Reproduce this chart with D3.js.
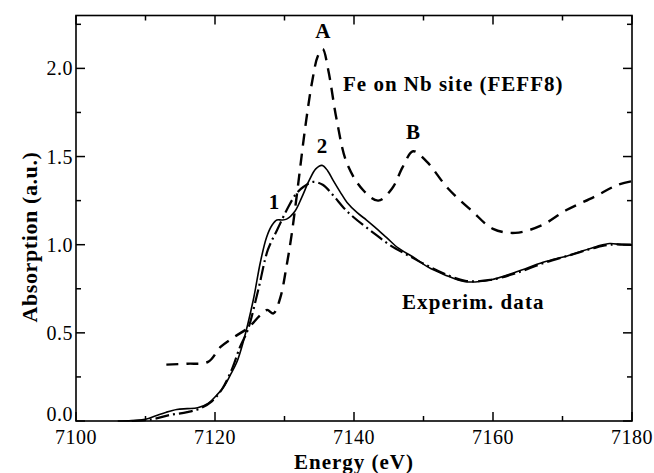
<!DOCTYPE html>
<html>
<head>
<meta charset="utf-8">
<script src="https://cdn.jsdelivr.net/npm/d3@7"></script>
<style>
  body { margin: 0; background: #fff; }
</style>
</head>
<body>
<svg id="chart" width="654" height="473"></svg>
<script>
// Fe on Nb site, FEFF8 calculation (dashed)
const feffEnergy = [7113, 7116, 7119, 7120.8, 7122.5, 7124.8, 7126.5, 7127.5, 7128.4, 7129.4, 7130.3, 7131, 7131.8, 7133, 7134, 7134.8, 7135.5, 7136.3, 7137.5, 7139, 7141.3, 7143.5, 7145.5, 7147, 7148.5, 7150.5, 7153.5, 7157, 7160, 7163.2, 7167, 7170.5, 7174.5, 7178, 7180];
const feffAbs = [0.32, 0.325, 0.335, 0.42, 0.47, 0.53, 0.60, 0.63, 0.61, 0.70, 0.88, 1.05, 1.29, 1.67, 1.93, 2.07, 2.11, 1.99, 1.71, 1.46, 1.31, 1.25, 1.32, 1.44, 1.53, 1.47, 1.32, 1.19, 1.09, 1.067, 1.11, 1.195, 1.27, 1.34, 1.36];

// experimental data (solid)
const expEnergy = [7106, 7108, 7110, 7111.5, 7113, 7114.5, 7116, 7117.5, 7119, 7120.2, 7121.2, 7122.2, 7123.1, 7124, 7125.5, 7126.5, 7127.4, 7128.2, 7128.9, 7129.6, 7130.3, 7131.5, 7132.5, 7133.5, 7134.5, 7135.4, 7136.2, 7137, 7138, 7139, 7140.5, 7141.8, 7143, 7144.7, 7146.4, 7148.5, 7150.6, 7153, 7156, 7159.6, 7163.4, 7167.2, 7171, 7174.9, 7176.8, 7178.5, 7180];
const expAbs = [0, 0.002, 0.01, 0.03, 0.05, 0.065, 0.07, 0.075, 0.10, 0.145, 0.19, 0.26, 0.33, 0.44, 0.685, 0.895, 1.04, 1.11, 1.14, 1.14, 1.145, 1.19, 1.27, 1.36, 1.43, 1.45, 1.42, 1.365, 1.30, 1.24, 1.18, 1.14, 1.10, 1.04, 0.98, 0.93, 0.874, 0.83, 0.79, 0.80, 0.846, 0.90, 0.94, 0.99, 1.007, 1.0, 0.997];

// second experimental curve (dash-dot)
const exp2Energy = [7108, 7111, 7113.5, 7116, 7117.8, 7119.5, 7121, 7122.5, 7123.6, 7124.7, 7126.2, 7127.6, 7128.9, 7130.3, 7131.7, 7132.8, 7134.1, 7135.5, 7137, 7138.5, 7139.9, 7142.7, 7145.2, 7148, 7150.6, 7153, 7156, 7159.6, 7163.4, 7167.2, 7171, 7174.9, 7177, 7180];
const exp2Abs = [0, 0.01, 0.034, 0.05, 0.07, 0.11, 0.18, 0.30, 0.42, 0.515, 0.74, 0.97, 1.08, 1.195, 1.29, 1.33, 1.356, 1.34, 1.28, 1.21, 1.157, 1.07, 0.997, 0.935, 0.88, 0.835, 0.795, 0.80, 0.84, 0.895, 0.94, 0.985, 1.0, 1.0];

const xMajor = [7100, 7120, 7140, 7160, 7180];
const xMinor = [7110, 7130, 7150, 7170];
const yMajor = [0.0, 0.5, 1.0, 1.5, 2.0];
const yMinor = [0.25, 0.75, 1.25, 1.75, 2.25];

// peak labels [energy, absorption, text]
const notes = [
  [7135.5, 2.17, "A"],
  [7148.5, 1.60, "B"],
  [7135.4, 1.52, "2"],
  [7128.5, 1.20, "1"]
];

const serif = "'Liberation Serif', 'Times New Roman', Times, 'DejaVu Serif', serif";

const svg = d3.select("#chart").attr("font-family", serif);
const plotL = 76, plotR = 632, plotT = 15.5, plotB = 421;

const x = d3.scaleLinear().domain([7100, 7180]).range([plotL, plotR]);
const y = d3.scaleLinear().domain([0, 2.3]).range([plotB, plotT]);

function pts(es, as) { return es.map((e, i) => [e, as[i]]); }

const line = d3.line()
  .x(d => x(d[0]))
  .y(d => y(d[1]))
  .curve(d3.curveCatmullRom.alpha(0.5));

const g = svg.append("g");

g.append("path")
  .attr("d", line(pts(feffEnergy, feffAbs)))
  .attr("fill", "none").attr("stroke", "#000")
  .attr("stroke-width", 2.4).attr("stroke-dasharray", "12,8");

g.append("path")
  .attr("d", line(pts(exp2Energy, exp2Abs)))
  .attr("fill", "none").attr("stroke", "#000")
  .attr("stroke-width", 2.2).attr("stroke-dasharray", "14,4,2,4");

g.append("path")
  .attr("d", line(pts(expEnergy, expAbs)))
  .attr("fill", "none").attr("stroke", "#000")
  .attr("stroke-width", 1.6);

// ticks pointing inward on all four sides
function xticks(vals, len) {
  vals.forEach(v => {
    g.append("line").attr("class", "tk").attr("x1", x(v)).attr("x2", x(v)).attr("y1", plotB).attr("y2", plotB - len);
    g.append("line").attr("class", "tk").attr("x1", x(v)).attr("x2", x(v)).attr("y1", plotT).attr("y2", plotT + len);
  });
}
function yticks(vals, len) {
  vals.forEach(v => {
    g.append("line").attr("class", "tk").attr("x1", plotL).attr("x2", plotL + len).attr("y1", y(v)).attr("y2", y(v));
    g.append("line").attr("class", "tk").attr("x1", plotR).attr("x2", plotR - len).attr("y1", y(v)).attr("y2", y(v));
  });
}
xticks(xMajor, 9); xticks(xMinor, 5);
yticks(yMajor, 9); yticks(yMinor, 5);
g.selectAll("line.tk").attr("stroke", "#000").attr("stroke-width", 1.5);

g.append("rect")
  .attr("x", plotL).attr("y", plotT)
  .attr("width", plotR - plotL).attr("height", plotB - plotT)
  .attr("fill", "none").attr("stroke", "#000").attr("stroke-width", 1.6);

// tick labels
xMajor.forEach(v => {
  g.append("text")
    .attr("x", x(v)).attr("y", plotB + 23)
    .attr("font-size", 20)
    .attr("letter-spacing", 0.5)
    .attr("text-anchor", "middle").text(v);
});
yMajor.forEach(v => {
  g.append("text")
    .attr("x", plotL - 3).attr("y", y(v) + (v === 0 ? 0 : 7))
    .attr("font-size", 20)
    .attr("letter-spacing", 0.5)
    .attr("text-anchor", "end").text(d3.format(".1f")(v));
});

// axis titles
g.append("text")
  .attr("x", (plotL + plotR) / 2).attr("y", 469)
  .attr("font-size", 21).attr("font-weight", "bold")
  .attr("letter-spacing", 1)
  .attr("text-anchor", "middle").text("Energy (eV)");
g.append("text")
  .attr("transform", "translate(37,237) rotate(-90)")
  .attr("font-size", 22).attr("font-weight", "bold")
  .attr("letter-spacing", 0.6)
  .attr("text-anchor", "middle").text("Absorption (a.u.)");

// annotations
notes.forEach(n => {
  g.append("text")
    .attr("x", x(n[0])).attr("y", y(n[1]))
    .attr("font-size", 21).attr("font-weight", "bold")
    .attr("text-anchor", "middle").text(n[2]);
});
g.append("text")
  .attr("x", 343).attr("y", 91)
  .attr("font-size", 21).attr("font-weight", "bold")
  .attr("letter-spacing", 1)
  .text("Fe on Nb site (FEFF8)");
g.append("text")
  .attr("x", 402).attr("y", 309)
  .attr("font-size", 21).attr("font-weight", "bold")
  .attr("letter-spacing", 1.1)
  .text("Experim. data");
</script>
</body>
</html>
